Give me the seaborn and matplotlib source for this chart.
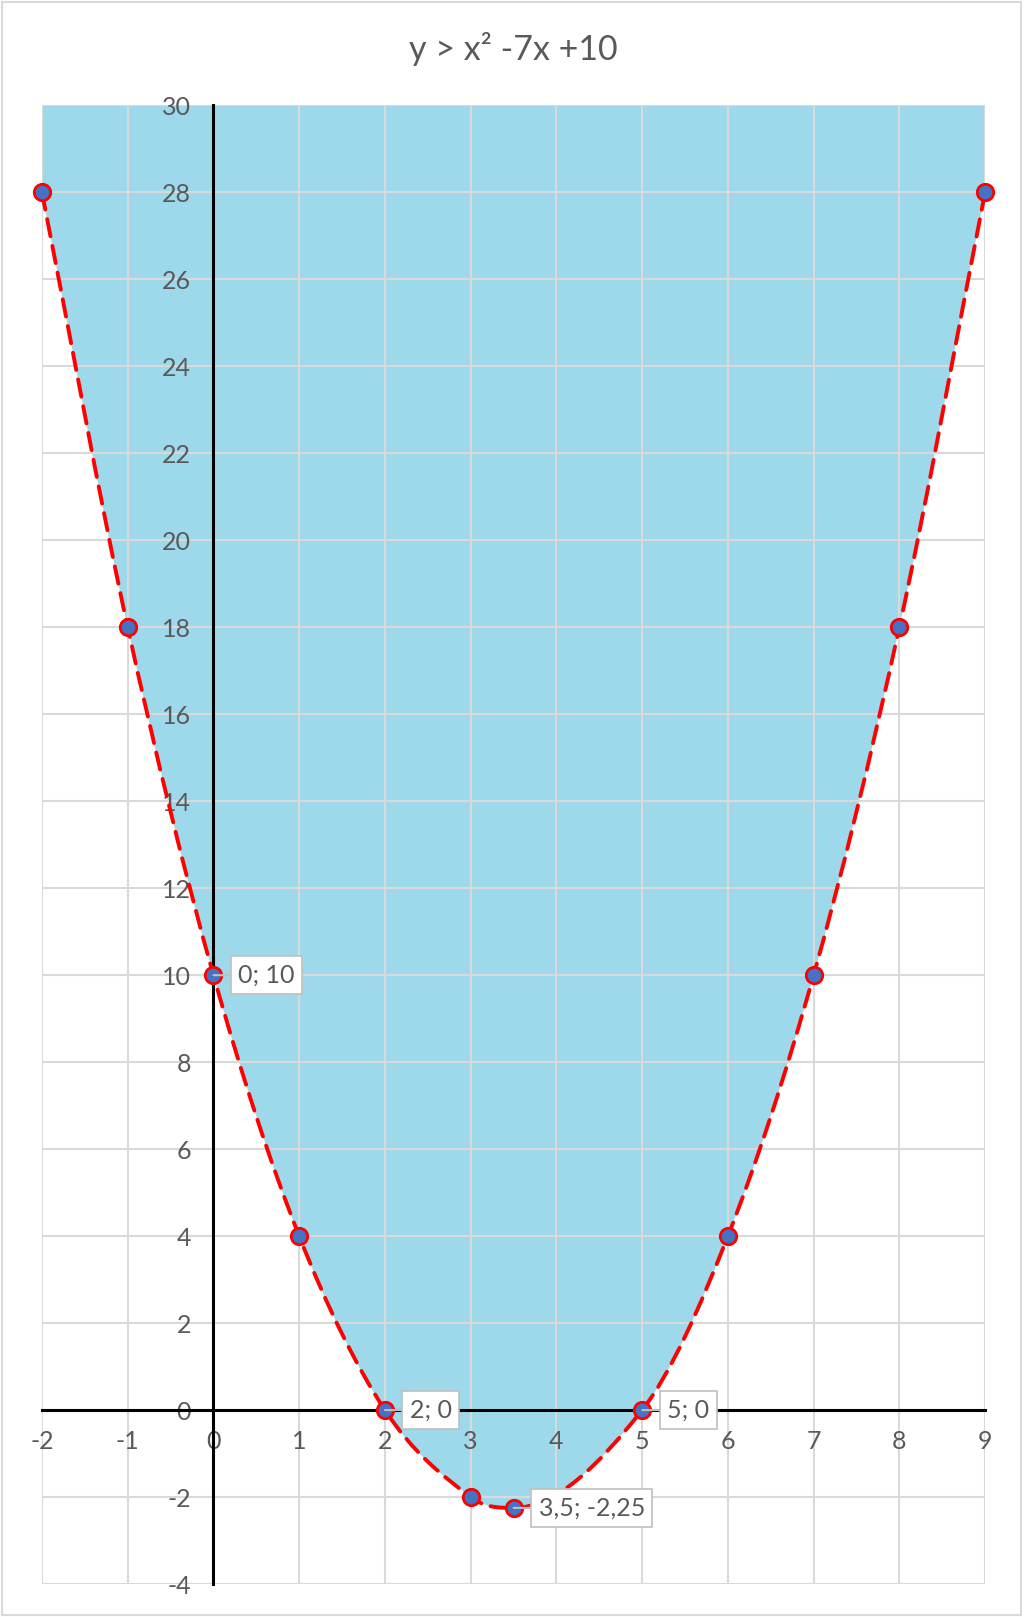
import numpy as np
import matplotlib
matplotlib.use("Agg")
import matplotlib.pyplot as plt
from matplotlib.path import Path
from matplotlib.patches import PathPatch, Rectangle
import seaborn as sns
import pandas as pd

# ---- data ----
title = "y > x\u00b2 -7x +10"
line_x = [-2, -1, 0, 1, 2, 3, 3.5, 5, 6, 7, 8, 9]
line_y = [28, 18, 10, 4, 0, -2, -2.25, 0, 4, 10, 18, 28]
label_x = [0, 2, 3.5, 5]
label_y = [10, 0, -2.25, 0]
label_text = ["0; 10", "2; 0", "3,5; -2,25", "5; 0"]
x_ticks = list(range(-2, 10))
y_ticks = list(range(-4, 31, 2))
x_min, x_max = -2, 9
y_min, y_max = -4, 30

sns.set_theme(style="white")
plt.rcParams['font.family'] = ['Lato', 'DejaVu Sans']
plt.rcParams['axes.unicode_minus'] = False

fig = plt.figure(figsize=(10.24, 16.17), dpi=100)
ax = fig.add_axes([0.041, 0.0204, 0.921, 0.9144])

text_color = '#595959'
grid_color = '#D9D9D9'

# smoothed curve through the data points (monotone-aware bezier)
xs = np.asarray(line_x, float)
ys = np.asarray(line_y, float)
n = len(xs)
sec = np.diff(ys) / np.diff(xs)
m = np.zeros(n)
m[0] = sec[0]
m[-1] = sec[-1]
for i in range(1, n - 1):
    if sec[i - 1] * sec[i] <= 0:
        m[i] = 0.0
    else:
        m[i] = (ys[i + 1] - ys[i - 1]) / (xs[i + 1] - xs[i - 1])
verts = [(xs[0], ys[0])]
codes = [Path.MOVETO]
for i in range(n - 1):
    h = (xs[i + 1] - xs[i]) / 3.0
    verts += [(xs[i] + h, ys[i] + h * m[i]),
              (xs[i + 1] - h, ys[i + 1] - h * m[i + 1]),
              (xs[i + 1], ys[i + 1])]
    codes += [Path.CURVE4] * 3
curve = Path(verts, codes)

# fill region above the curve
fill_path = Path(verts + [(x_max, y_max), (x_min, y_max), (xs[0], ys[0])],
                 codes + [Path.LINETO, Path.LINETO, Path.CLOSEPOLY])
ax.add_patch(PathPatch(fill_path, facecolor='#9DD9EA', edgecolor='none', zorder=1))

ax.add_patch(PathPatch(curve, fill=False, edgecolor='#FF0000', lw=2.8,
                       linestyle=(0, (4.5, 2.5)), capstyle='round',
                       zorder=4, clip_on=False))

df = pd.DataFrame({'x': line_x, 'y': line_y})
sns.scatterplot(data=df, x='x', y='y', ax=ax, s=140, color='#4472C4',
                edgecolor='#FF0000', linewidth=2.0, zorder=5, clip_on=False)

# data labels
for lx, ly, lt in zip(label_x, label_y, label_text):
    ax.annotate(lt, xy=(lx, ly), xytext=(18, 0), textcoords='offset points',
                ha='left', va='center', fontsize=18, color=text_color, zorder=6,
                bbox=dict(boxstyle='square,pad=0.3', fc='white', ec='#BFBFBF', lw=1.2),
                arrowprops=dict(arrowstyle='-', color='#BFBFBF', lw=1.5,
                                shrinkA=0, shrinkB=0))

ax.set_xlim(x_min, x_max)
ax.set_ylim(y_min, y_max)
ax.set_xticks(x_ticks)
ax.set_yticks(y_ticks)
ax.set_xlabel('')
ax.set_ylabel('')

ax.set_axisbelow(False)
ax.grid(True, color=grid_color, lw=1.5)
for g in ax.get_xgridlines() + ax.get_ygridlines():
    g.set_zorder(2)

for s in ['top', 'right']:
    ax.spines[s].set_visible(False)
ax.spines['left'].set_position(('data', 0))
ax.spines['bottom'].set_position(('data', 0))
for s in ['left', 'bottom']:
    ax.spines[s].set_color('black')
    ax.spines[s].set_linewidth(2.2)
    ax.spines[s].set_zorder(3)

ax.tick_params(axis='both', length=0, labelsize=18, labelcolor=text_color)
ax.tick_params(axis='y', pad=16)
ax.tick_params(axis='x', pad=14)
ax.patch.set_alpha(0)

fig.text(0.501, 0.963, title, ha='center', va='baseline', fontsize=24.5,
         color=text_color)

fig.add_artist(Rectangle((0.002, 0.0012), 0.995, 0.9975, transform=fig.transFigure,
                         fill=False, edgecolor=grid_color, lw=1.5))

fig.savefig('out.png', dpi=100)
